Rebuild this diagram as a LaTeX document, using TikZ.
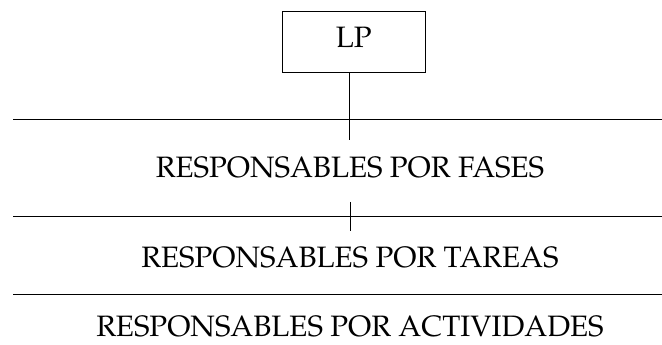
\documentclass[tikz,border=0pt]{standalone}
\usepackage[T1]{fontenc}
\usepackage{mathpazo}
\begin{document}
\begin{tikzpicture}[x=1pt,y=1pt,
  rule/.style={line width=0.8pt},
  level/.style={anchor=base,inner sep=0pt,font=\fontsize{29.5}{32}\selectfont},
  chief/.style={draw,line width=0.8pt,inner sep=0pt,minimum width=143.7pt,
    text height=36.3pt,text depth=24.7pt,anchor=base,font=\fontsize{29.5}{32}\selectfont}]
  \useasboundingbox (0,0) rectangle (662,345);
  % head box
  \node[chief] (lp) at (353.8,297) {LP};
  % level titles
  \node[level] (fases) at (350,167.7) {RESPONSABLES POR FASES};
  \node[level] (tareas) at (350,77) {RESPONSABLES POR TAREAS};
  \node[level] (activ) at (350,8.3) {RESPONSABLES POR ACTIVIDADES};
  % separating rules
  \coordinate (r1l) at (13,226);   \coordinate (r1r) at (662,226);
  \coordinate (r2l) at (13,128.3); \coordinate (r2r) at (662,128.3);
  \coordinate (r3l) at (13,51);    \coordinate (r3r) at (662,51);
  \draw[rule] (r1l) -- (r1r);
  \draw[rule] (r2l) -- (r2r);
  \draw[rule] (r3l) -- (r3r);
  % stem below the box and tick on the second rule
  \coordinate (stem) at (349.7,205);
  \draw[rule] (lp.south -| stem) -- (stem);
  \coordinate (tickT) at (350,143);
  \coordinate (tickB) at (350,114.3);
  \draw[rule] (tickT) -- (tickB);
\end{tikzpicture}
\end{document}
